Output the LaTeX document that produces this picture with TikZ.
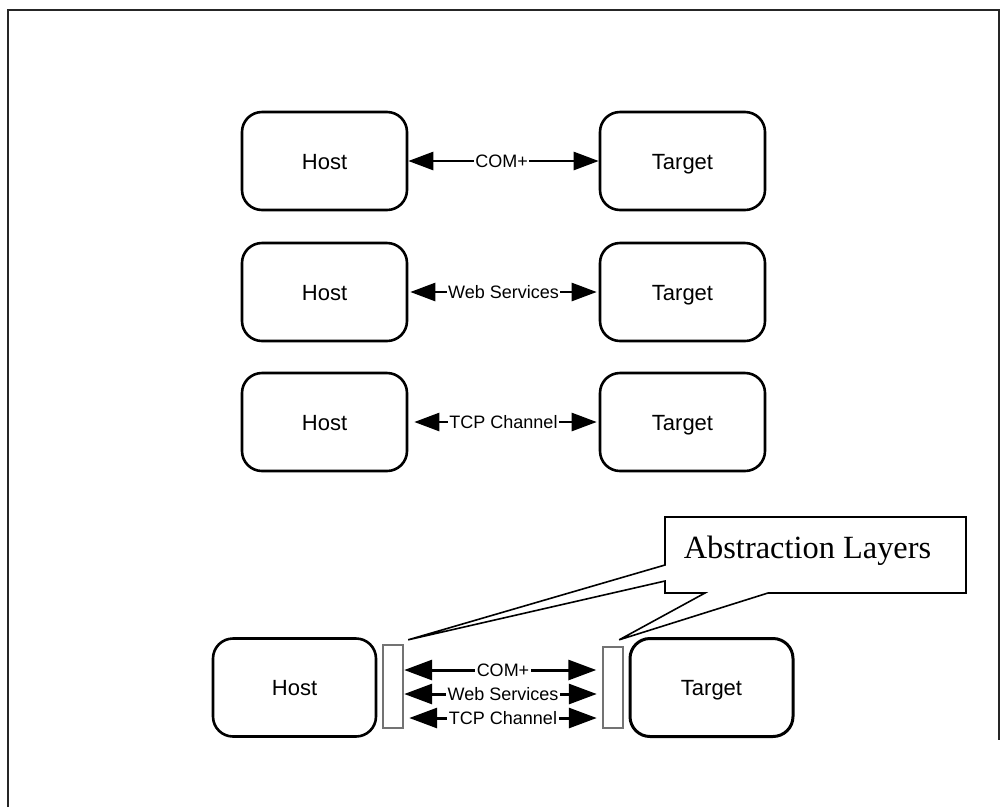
\documentclass[tikz,border=0pt]{standalone}
\usepackage{fontspec}
\setmainfont{Liberation Sans}
\newfontfamily\calloutfont{Liberation Serif}
\usetikzlibrary{arrows.meta}

\begin{document}
\begin{tikzpicture}[x=1pt,y=-1pt,
  box/.style={draw=black, line width=2.6pt, rounded corners=20pt,
    minimum width=165pt, minimum height=98pt, inner sep=0pt,
    text height=16pt, text depth=0pt,
    font=\fontsize{22}{26}\selectfont},
  link/.style={line width=2.6pt,
    {Triangle[length=25pt,width=18pt]}-{Triangle[length=25pt,width=18pt]}},
  biglink/.style={line width=3pt,
    {Triangle[length=28pt,width=20pt]}-{Triangle[length=28pt,width=20pt]}},
  lbl/.style={fill=white, inner sep=1.5pt, font=\fontsize{18}{20}\selectfont},
  layer/.style={draw=black!55, fill=white, line width=2.4pt,
    minimum width=20pt, minimum height=83pt, inner sep=0pt},
  frame/.style={draw=black!85, line width=1.6pt},
  callout/.style={draw=black, fill=white, line width=1.6pt, line join=miter},
]
\useasboundingbox (0,0) rectangle (1001,807);

% page frame (open at the bottom)
\draw[frame] (8,807) -- (8,10) -- (999,10) -- (999,740);

% three separate host/target pairs
\node[box] (h1) at (324.5,161) {Host};
\node[box] (t1) at (682.5,161) {Target};
\node[box] (h2) at (324.5,292) {Host};
\node[box] (t2) at (682.5,292) {Target};
\node[box] (h3) at (324.5,422) {Host};
\node[box] (t3) at (682.5,422) {Target};

\draw[link] (h1.east) -- (t1.west) node[lbl, pos=0.49] {COM+};
\draw[link, shorten <=2pt, shorten >=2pt] (h2.east) -- (t2.west)
  node[lbl, midway] {Web Services};
\draw[link, shorten <=6pt, shorten >=2pt] (h3.east) -- (t3.west)
  node[lbl, midway] {TCP Channel};

% combined pair with abstraction layers
\node[box, minimum width=163pt] (h4) at (294.5,687.5) {Host};
\node[box, minimum width=163pt, line width=3pt] (t4) at (711.5,687.5) {Target};
\node[layer] (la) at (393,686.5) {};
\node[layer, minimum height=81pt] (lb) at (613,687.5) {};

\draw[biglink, shorten >=5.5pt] ([yshift=16.5pt]la.east) -- ([yshift=16.5pt]la.east -| lb.west)
  node[lbl, midway] {COM+};
\draw[biglink, shorten >=5pt] ([yshift=-7.5pt]la.east) -- ([yshift=-7.5pt]la.east -| lb.west)
  node[lbl, midway] {Web Services};
\draw[biglink, shorten <=5pt, shorten >=5pt] ([yshift=-31.5pt]la.east) -- ([yshift=-31.5pt]la.east -| lb.west)
  node[lbl, midway] {TCP Channel};

% callout pointing at both layers
\coordinate (tipA) at ([xshift=4pt,yshift=4pt]la.north east);
\coordinate (tipB) at ([xshift=-5pt,yshift=6pt]lb.north east);
\draw[callout] (665,517) -- (966,517) -- (966,593) -- (768,593) -- (tipB)
  -- (705,593) -- (665,593) -- (665,581) -- (tipA) -- (665,565) -- cycle;
\node[font=\calloutfont\fontsize{32.4}{38}\selectfont, anchor=base, inner sep=0pt]
  (abs) at (807.5,558) {Abstraction Layers};
\end{tikzpicture}
\end{document}
